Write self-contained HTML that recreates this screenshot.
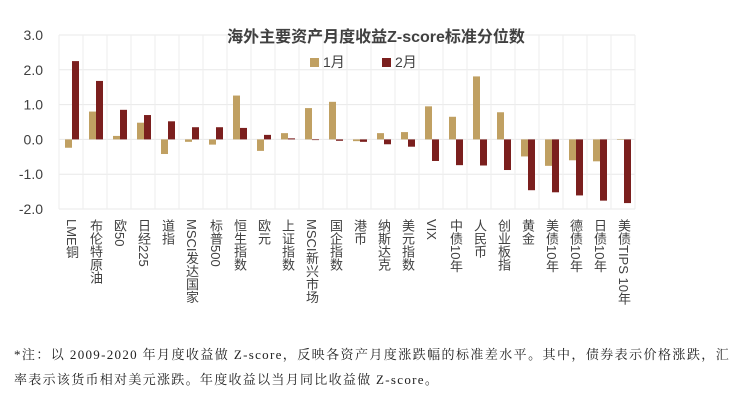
<!DOCTYPE html>
<html><head><meta charset="utf-8"><style>
body{margin:0;background:#fff;width:755px;height:403px;overflow:hidden;position:relative;font-family:"Liberation Sans","Noto Sans CJK SC",sans-serif}
.xl{position:absolute;top:219px;height:180px;writing-mode:vertical-rl;font-size:13px;color:#404040;line-height:14px;white-space:nowrap;word-break:keep-all}
.note{position:absolute;left:14px;top:342px;width:716px;font-family:"Liberation Serif","Noto Serif CJK SC",serif;font-size:13px;letter-spacing:1.3px;line-height:25px;color:#222;text-align:justify}
</style></head><body>
<svg id="chart" width="755" height="403" style="position:absolute;left:0;top:0"></svg>
<div id="labels"></div>
<div class="note">*注：以 2009-2020 年月度收益做 Z-score，反映各资产月度涨跌幅的标准差水平。其中，债券表示价格涨跌，汇率表示该货币相对美元涨跌。年度收益以当月同比收益做 Z-score。</div>
<script>
const categories=["LME铜","布伦特原油","欧50","日经225","道指","MSCI发达国家","标普500","恒生指数","欧元","上证指数","MSCI新兴市场","国企指数","港币","纳斯达克","美元指数","VIX","中债10年","人民币","创业板指","黄金","美债10年","德债10年","日债10年","美债TIPS 10年"];
const janValues=[-0.24,0.80,0.10,0.48,-0.42,-0.07,-0.15,1.26,-0.33,0.18,0.90,1.08,-0.05,0.18,0.21,0.95,0.65,1.81,0.78,-0.49,-0.76,-0.60,-0.63,0.00];
const febValues=[2.25,1.68,0.85,0.70,0.52,0.35,0.35,0.33,0.13,0.03,-0.02,-0.04,-0.07,-0.14,-0.21,-0.62,-0.74,-0.75,-0.88,-1.46,-1.52,-1.61,-1.76,-1.83];
const yTicks=[3.0,2.0,1.0,0.0,-1.0,-2.0];
const NS="http://www.w3.org/2000/svg";
const svg=document.getElementById('chart');
const L=59,R=635,T=35,B=209,yMax=3,yMin=-2;
const y=v=>T+(yMax-v)/(yMax-yMin)*(B-T);
const bw=(R-L)/categories.length;
const x=i=>L+i*bw;
function mk(tag,attrs){const e=document.createElementNS(NS,tag);for(const k in attrs)e.setAttribute(k,attrs[k]);svg.appendChild(e);return e;}
yTicks.forEach(t=>{
 const g=mk('line',{x1:L,x2:R,y1:y(t),y2:y(t),stroke:'#e8e8e8','stroke-width':1});
 
 
 const tx=mk('text',{x:L-16,y:y(t)+5,'text-anchor':'end','font-size':14,fill:'#404040'});
 tx.textContent=t.toFixed(1);
 
 
});
for(let i=0;i<=categories.length;i++){
 const g=mk('line',{x1:x(i),x2:x(i),y1:T,y2:B,stroke:'#eeeeee','stroke-width':1});
 
 
}
categories.forEach((c,i)=>{
 const a=janValues[i],b=febValues[i];
 const r1=mk('rect',{x:x(i)+6,width:7,y:Math.min(y(a),y(0)),height:Math.max(Math.abs(y(a)-y(0)),0.5),fill:'#C0A062'});
 
 
 const r2=mk('rect',{x:x(i)+13,width:7,y:Math.min(y(b),y(0)),height:Math.max(Math.abs(y(b)-y(0)),0.5),fill:'#7B1F1E'});
 
 
 const d=document.createElement('div');
 d.className='xl';d.style.left=(x(i)+5)+'px';d.textContent=c;
 
 
 document.getElementById('labels').appendChild(d);
});
const title=mk('text',{x:376,y:42,'text-anchor':'middle','font-size':16,'font-weight':'bold',fill:'#404040'});
title.textContent='海外主要资产月度收益Z-score标准分位数';


[['1月','#C0A062',310],['2月','#7B1F1E',382]].forEach(([n,c,lx])=>{
 const s=mk('rect',{x:lx,y:58,width:9,height:9,fill:c});
 
 
 const t=mk('text',{x:lx+13,y:67,'font-size':14,fill:'#404040'});
 t.textContent=n;
 
 
});
</script>
</body></html>
